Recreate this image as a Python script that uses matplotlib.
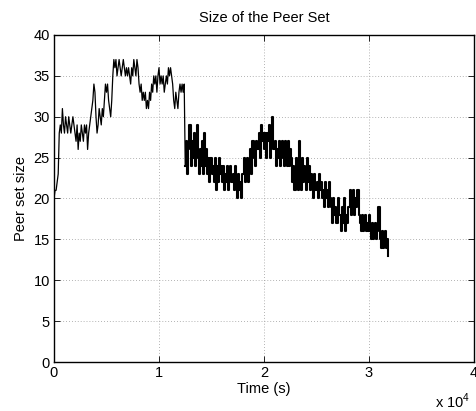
import numpy as np
import matplotlib
matplotlib.use("Agg")
import matplotlib.pyplot as plt
from matplotlib.ticker import FixedLocator, FixedFormatter

plt.rcParams['font.family'] = ['Liberation Sans', 'DejaVu Sans']
plt.rcParams['mathtext.fontset'] = 'custom'
plt.rcParams['mathtext.rm'] = 'Liberation Sans'

# Sampling interval of the peer-set log (seconds)
sample_interval = 100

# Peer set size, t = 0 .. 12400 s
peers_phase1 = [20, 21, 21, 22, 23,
                28,
                29, 28, 31, 29,
                28, 30, 29, 28, 30, 29, 28, 29, 30, 29,
                28, 27, 29, 26, 28,
                27, 29, 28, 27, 29, 28, 29, 26, 28,
                29, 30, 31, 32, 34, 33, 30, 28,
                29, 31, 30, 29, 31, 30,
                32, 34, 33, 34, 32,
                31, 30, 32,
                35, 37, 36,
                37, 35, 36, 37, 36, 35, 36, 37, 36, 35, 36, 35, 36, 35, 34, 36, 35,
                37, 36, 35, 37, 36, 34,
                33, 34, 32, 33, 32, 33, 31, 32, 31, 33, 32,
                34, 33, 35, 34, 35, 33, 35, 36, 34, 35,
                34, 35, 33, 34, 35, 34, 36, 35,
                36, 35, 34,
                32, 31, 33, 32, 31, 33,
                34, 33, 34, 33, 34]

# Peer set size, t = 12500 .. 31800 s
peers_phase2 = [24, 27, 23, 26, 29, 24, 27,
                25, 28, 24, 27, 29, 25,
                23, 26, 24, 27, 23, 28, 24, 26, 23, 25,
                22, 25, 23, 24, 22, 25, 21, 24, 22, 25, 23, 24, 22,
                24, 21, 23, 22, 24, 21, 23, 24, 22, 23, 21, 24,
                22, 20, 23, 21, 22, 20, 23,
                23, 25, 22, 24, 25, 22,
                24, 26, 23, 27, 25, 24, 27, 26,
                26, 28, 25, 29, 27, 28,
                26, 28, 25, 28, 27, 29, 25, 28, 30, 26,
                27, 24, 26, 25, 27, 24, 26, 27, 25, 24, 27,
                25, 24, 27, 24, 26,
                25, 22, 24, 21, 25, 23, 21, 27,
                24, 21, 25, 22, 24, 23, 21, 25, 22, 24, 21, 23,
                22, 20, 23, 21, 22, 20, 23, 21, 22, 20,
                21, 19, 22, 20, 21, 19, 22, 20,
                19, 17, 20, 18, 19, 17, 20, 18,
                18, 16, 19, 17, 20, 16, 18, 17, 19,
                19, 21, 18, 20, 21, 18, 20, 19, 21, 18,
                17, 16, 18, 16, 17, 18, 16, 17, 16, 18,
                16, 15, 17, 15, 16, 17, 15, 16, 19,
                15, 14, 16, 14, 15, 16,
                14, 15, 13]

x_ticks = [0, 10000, 20000, 30000, 40000]
x_tick_labels = ['0', '1', '2', '3', '4']
y_ticks = [0, 5, 10, 15, 20, 25, 30, 35, 40]

peers1 = np.array(peers_phase1)
peers2 = np.array(peers_phase2)
times1 = np.arange(len(peers1)) * sample_interval
times2 = (len(peers1) + np.arange(len(peers2))) * sample_interval

fig = plt.figure(figsize=(4.76, 4.11), dpi=100)
ax = fig.add_axes([54/476, 49/411, 420/476, 327/411])

# bridge the two phases so the line is continuous
ax.plot(np.r_[times1, times2[:1]], np.r_[peers1, peers2[:1]],
        color='black', lw=0.9)
ax.plot(times2, peers2, color='black', lw=1.5, drawstyle='steps-post')

ax.set_xlim(0, 40000)
ax.set_ylim(0, 40)
ax.xaxis.set_major_locator(FixedLocator(x_ticks))
ax.xaxis.set_major_formatter(FixedFormatter(x_tick_labels))
ax.set_yticks(y_ticks)

ax.grid(True, color='#9a9a9a', linestyle=(0, (1, 2.5)), linewidth=0.6)
ax.tick_params(direction='in', length=4, width=0.6, top=True, right=True,
               labelsize=10.5, pad=3)
for s in ax.spines.values():
    s.set_linewidth(1.0)

ax.set_title('Size of the Peer Set', fontsize=10.5, pad=9)
ax.set_xlabel('Time (s)', fontsize=10.5, labelpad=1)
ax.set_ylabel('Peer set size', fontsize=10.5, labelpad=4)

fig.text(453/476, 1 - 401/411, r'x 10$^{\mathregular{4}}$', fontsize=10.5,
         ha='center', va='center')

fig.savefig('out.png', dpi=100)
